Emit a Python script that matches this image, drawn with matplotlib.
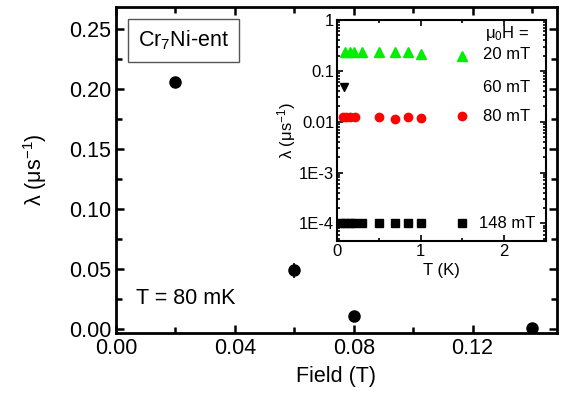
import numpy as np
import matplotlib
matplotlib.use("Agg")
import matplotlib.pyplot as plt
from matplotlib.ticker import MultipleLocator, FormatStrFormatter, LogLocator, FixedLocator, FixedFormatter, NullFormatter

plt.rcParams['font.family'] = ['Liberation Sans', 'DejaVu Sans']
plt.rcParams['mathtext.fontset'] = 'custom'
plt.rcParams['mathtext.rm'] = 'Liberation Sans'
plt.rcParams['mathtext.it'] = 'Liberation Sans'

# main panel: lambda vs field at T = 80 mK
field = [0.02, 0.06, 0.08, 0.14]
lam = [0.206, 0.049, 0.011, 0.001]
lam_err = [0.0, 0.0065, 0.0, 0.0]

# inset: lambda vs temperature for each field
T_20 = [0.1, 0.15, 0.2, 0.3, 0.5, 0.7, 0.85, 1.0, 1.5]
lam_20 = [0.23, 0.235, 0.235, 0.23, 0.23, 0.23, 0.24, 0.215, 0.2]
T_60 = [0.08]
lam_60 = [0.049]
T_80 = [0.07, 0.11, 0.16, 0.21, 0.5, 0.7, 0.85, 1.0, 1.5]
lam_80 = [0.0125, 0.0125, 0.0125, 0.0125, 0.0122, 0.0115, 0.0122, 0.012, 0.013]
T_148 = [0.05, 0.1, 0.15, 0.2, 0.3, 0.5, 0.7, 0.85, 1.0, 1.5]
lam_148 = [1e-4] * 10

field_labels = ["20 mT", "60 mT", "80 mT", "148 mT"]
label_y = [0.21, 0.048, 0.0129, 1.0e-4]

fs = 15.5
fs_in = 12

fig = plt.figure(figsize=(5.62, 4.0), dpi=100)
ax = fig.add_axes([0.2064, 0.1675, 0.7847, 0.815])

ax.errorbar(field, lam, yerr=lam_err, fmt='o', color='black', ms=8, capsize=0, elinewidth=1.2)
ax.set_xlim(0, 0.1484)
ax.set_ylim(-0.003, 0.268)
ax.xaxis.set_major_locator(MultipleLocator(0.04))
ax.xaxis.set_minor_locator(MultipleLocator(0.02))
ax.yaxis.set_major_locator(MultipleLocator(0.05))
ax.yaxis.set_minor_locator(MultipleLocator(0.025))
ax.xaxis.set_major_formatter(FormatStrFormatter('%.2f'))
ax.yaxis.set_major_formatter(FormatStrFormatter('%.2f'))
ax.tick_params(which='both', direction='in', top=True, right=True, width=1.8, labelsize=fs)
ax.tick_params(which='major', length=6)
ax.tick_params(which='minor', length=4)
for s in ax.spines.values():
    s.set_linewidth(2)
ax.set_xlabel("Field (T)", fontsize=fs, labelpad=5)
ax.set_ylabel("λ (μs$^{-1}$)", fontsize=fs, labelpad=14)

ax.text(0.05, 0.897, "Cr$_7$Ni-ent", transform=ax.transAxes, fontsize=fs, va='center', ha='left',
        bbox=dict(boxstyle='square,pad=0.45', fc='white', ec='#555555', lw=1))
ax.text(0.045, 0.107, "T = 80 mK", transform=ax.transAxes, fontsize=fs, ha='left', va='center')

# inset
ins = fig.add_axes([0.5996, 0.3975, 0.3719, 0.5525])
ins.plot(T_20, lam_20, '^', color='#00ee00', ms=6.5, ls='none')
ins.plot(T_60, lam_60, 'v', color='black', ms=6, ls='none')
ins.plot(T_80, lam_80, 'o', color='#ff0000', ms=6, ls='none')
ins.plot(T_148, lam_148, 's', color='black', ms=5.5, ls='none')
ins.set_yscale('log')
ins.set_xlim(0, 2.5)
ins.set_ylim(4.5e-5, 1)
ins.xaxis.set_major_locator(MultipleLocator(1))
ins.xaxis.set_minor_locator(MultipleLocator(0.5))
ins.yaxis.set_major_locator(FixedLocator([1e-4, 1e-3, 1e-2, 1e-1, 1]))
ins.yaxis.set_major_formatter(FixedFormatter(["1E-4", "1E-3", "0.01", "0.1", "1"]))
ins.yaxis.set_minor_locator(LogLocator(base=10, subs=np.arange(2, 10)))
ins.yaxis.set_minor_formatter(NullFormatter())
ins.tick_params(which='both', direction='in', top=True, right=True, width=1.2, labelsize=fs_in, pad=2)
ins.tick_params(which='major', length=4)
ins.tick_params(which='minor', length=2)
for s in ins.spines.values():
    s.set_linewidth(1.5)
ins.set_xlabel("T (K)", fontsize=fs_in, labelpad=3)
ins.set_ylabel("λ (μs$^{-1}$)", fontsize=fs_in, labelpad=1)

ins.text(2.03, 0.55, "μ$_0$H =", fontsize=fs_in, ha='center', va='center')
for lab, yy in zip(field_labels, label_y):
    ins.text(2.03, yy, lab, fontsize=fs_in, ha='center', va='center')

fig.savefig("out.png", dpi=100)
